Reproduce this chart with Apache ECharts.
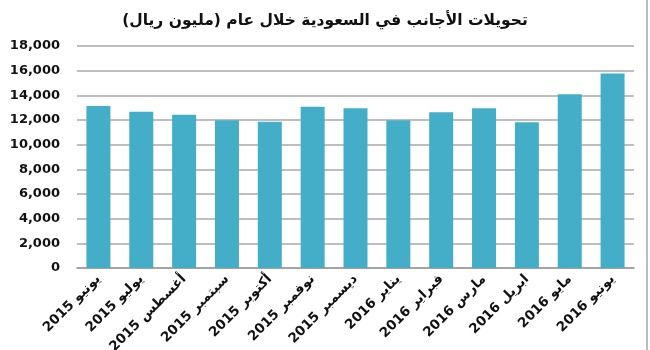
<!DOCTYPE html>
<html>
<head>
<meta charset="utf-8">
<script src="https://cdn.jsdelivr.net/npm/echarts@6/dist/echarts.min.js"></script>
<style>
html,body{margin:0;padding:0;background:#fff;}
#c{width:650px;height:350px;box-sizing:border-box;}
#edge{position:absolute;left:646px;top:0;width:2px;height:350px;background:#bdbdbd;}
</style>
</head>
<body>
<div id="c"></div>
<div id="edge"></div>
<script>
var titleText = 'تحويلات الأجانب في السعودية خلال عام (مليون ريال)';
var categories = ['يونيو 2015','يوليو 2015','أغسطس 2015','سبتمبر 2015','أكتوبر 2015','نوفمبر 2015','ديسمبر 2015','يناير 2016','فبراير 2016','مارس 2016','ابريل 2016','مايو 2016','يونيو 2016'];
var values = [13130, 12670, 12430, 11970, 11860, 13080, 12950, 11970, 12620, 12950, 11810, 14080, 15780];
var yMin = 0, yMax = 18000, yStep = 2000;

var chart = echarts.init(document.getElementById('c'), null, {renderer:'canvas'});
chart.setOption({
  animation:false,
  backgroundColor:'#ffffff',
  title:{
    text:titleText, left:'center', top:8,
    textStyle:{fontFamily:'DejaVu Sans', fontWeight:'bold', fontSize:15.5, color:'#111'}
  },
  grid:{left:77, right:16, top:46, bottom:82, containLabel:false, outerBoundsMode:'none'},
  xAxis:{
    type:'category', data:categories,
    axisLine:{lineStyle:{color:'#9a9a9a', width:1.5}},
    axisTick:{show:false},
    axisLabel:{
      rotate:45, interval:0, margin:9,
      fontFamily:'DejaVu Sans', fontWeight:'bold', fontSize:13.5, color:'#111'
    }
  },
  yAxis:{
    type:'value', min:yMin, max:yMax, interval:yStep,
    axisLine:{show:false},
    axisTick:{show:false},
    splitLine:{lineStyle:{color:'#a8a8a8', width:1.5}},
    axisLabel:{
      margin:17,
      fontFamily:'DejaVu Sans', fontWeight:'bold', fontSize:13, color:'#111',
      formatter:function(v){return v.toLocaleString('en-US');}
    }
  },
  series:[{
    type:'bar', data:values, barWidth:24,
    itemStyle:{color:'#44aec8'}
  }]
});
</script>
</body>
</html>
